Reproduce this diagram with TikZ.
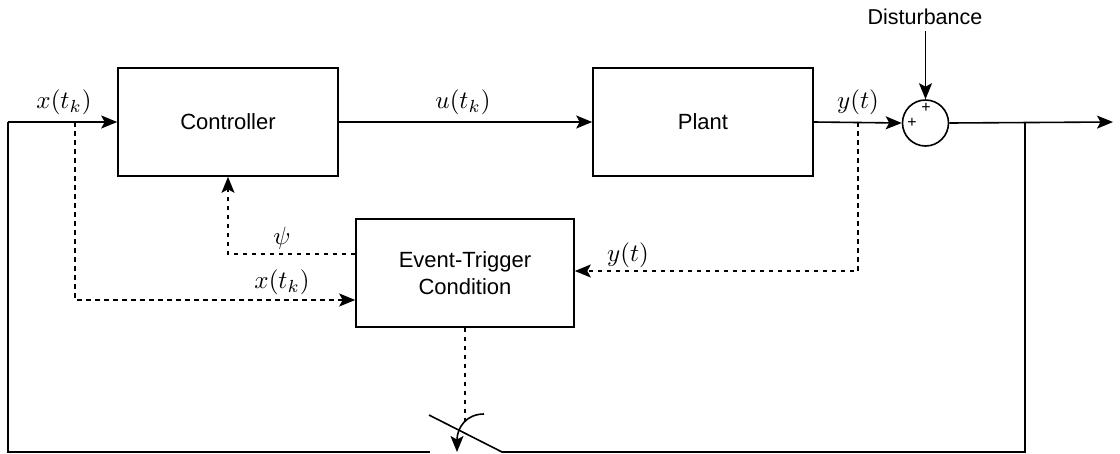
\documentclass[tikz,border=0pt]{standalone}
\usepackage{graphicx}
\usepackage{fontspec}
\setmainfont{Liberation Sans}
\usetikzlibrary{arrows.meta}
% math labels: 10pt math blown up to the label size
\newcommand\mlab[1]{\scalebox{2.5}{$#1$}}
\tikzset{
  blk/.style={draw, line width=1.6pt, minimum width=220pt, minimum height=108pt, inner sep=0pt, font=\fontsize{22}{26}\selectfont, align=center},
  sig/.style={line width=1.6pt},
  tip/.style={-{Stealth[length=16pt,width=13pt,inset=3.5pt]}},
  dsh/.style={line width=1.6pt, dash pattern=on 4.5pt off 4.5pt},
  lbl/.style={inner sep=0pt},
  plus/.style={inner sep=0pt, font=\fontsize{16}{16}\selectfont},
}
\begin{document}
\begin{tikzpicture}[x=1pt,y=-1pt]
\useasboundingbox (0,0) rectangle (1120,453);
% blocks
\node[blk] (ctrl) at (228,122) {Controller};
\node[blk] (plant) at (703,122) {Plant};
\node[blk, minimum width=218pt] (et) at (465,273) {Event-Trigger\\[1pt]Condition};
\node[draw, circle, line width=1.6pt, minimum size=46pt, inner sep=0pt] (sum) at (925.5,123) {};
\node[plus] (p1) at (926,108) {+};
\node[plus] (p2) at (912,123) {+};
% junction and corner points
\coordinate (in) at (8,122);
\coordinate (xk) at (75,122);
\coordinate (xkd) at (75,300);
\coordinate (psi) at (228,254);
\coordinate (yj) at (858,122);
\coordinate (yjd) at (858,271);
\coordinate (fb) at (1025,122);
\coordinate (fbd) at (1025,452);
\coordinate (inb) at (8,452);
\coordinate (swL) at (430,452);
\coordinate (swR) at (502,452);
\coordinate (swT) at (429,415);
\coordinate (out) at (1113,122);
\coordinate (dtop) at (925.5,31);
\coordinate (sd) at (465,422);
% disturbance
\node[inner sep=0pt, font=\fontsize{21.5}{24}\selectfont] (dist) at (925,17) {Disturbance};
\draw[sig, tip] (dtop) -- (sum.north);
% forward path
\draw[sig, tip] (in) -- (ctrl.west);
\draw[sig, tip] (ctrl.east) -- (plant.west);
\draw[sig, tip] (plant.east) -- (sum.west);
\draw[sig, tip] (sum.east) -- (out);
% feedback path with switch
\draw[sig] (fb) -- (fbd) -- (swR) -- (swT);
\draw[sig] (swL) -- (inb) -- (in);
% event-trigger signals
\draw[dsh, tip] (xk) -- (xkd) -- (et.west |- xkd);
\draw[dsh, tip] (et.west |- psi) -- (psi) -- (ctrl.south);
\draw[dsh, tip] (yj) -- (yjd) -- (et.east |- yjd);
\draw[dsh] (et.south) -- (sd);
\draw[sig, tip] (484,414) .. controls (466,414) and (457,428) .. (457,452);
% labels
\node[lbl] (lx) at (64,102) {\mlab{x(t_k)}};
\node[lbl] (lu) at (463,102) {\mlab{u(t_k)}};
\node[lbl] (ly) at (858,102) {\mlab{y(t)}};
\node[lbl] (lpsi) at (282,238) {\mlab{\psi}};
\node[lbl] (lx2) at (282,282) {\mlab{x(t_k)}};
\node[lbl] (ly2) at (628,255) {\mlab{y(t)}};
\end{tikzpicture}
\end{document}
